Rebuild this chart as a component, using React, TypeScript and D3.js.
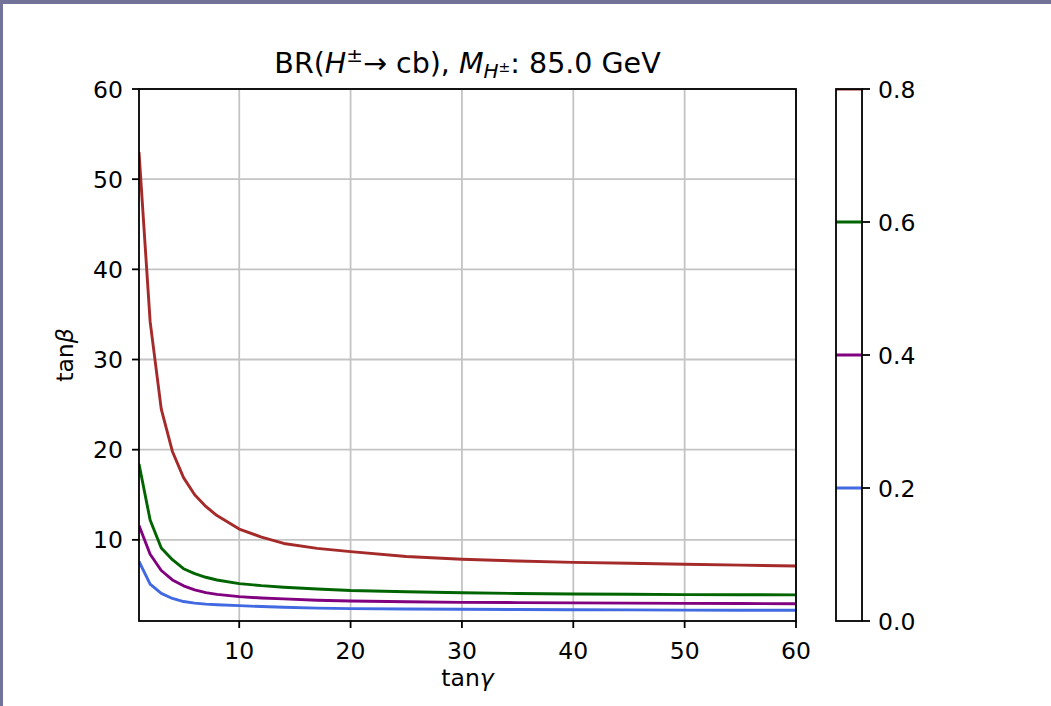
import React from "react";
import * as d3 from "d3";

const tanGamma = [1, 2, 3, 4, 5, 6, 7, 8, 10, 12, 14, 17, 20, 25, 30, 35, 40, 45, 50, 55, 60];
const br02 = [7.6, 5.1, 4.07, 3.5, 3.16, 2.98, 2.87, 2.8, 2.7, 2.6, 2.53, 2.43, 2.37, 2.33, 2.3, 2.27, 2.25, 2.23, 2.21, 2.2, 2.19];
const br04 = [11.6, 8.4, 6.6, 5.55, 4.9, 4.45, 4.15, 3.95, 3.7, 3.55, 3.45, 3.3, 3.22, 3.13, 3.07, 3.04, 3.01, 2.98, 2.96, 2.94, 2.92];
const br06 = [18.4, 12.2, 9.1, 7.8, 6.8, 6.25, 5.85, 5.55, 5.15, 4.92, 4.75, 4.55, 4.38, 4.25, 4.14, 4.05, 3.99, 3.96, 3.93, 3.91, 3.9];
const br08 = [53, 34.2, 24.5, 19.8, 16.9, 15.0, 13.7, 12.7, 11.2, 10.3, 9.6, 9.05, 8.7, 8.15, 7.85, 7.65, 7.5, 7.4, 7.3, 7.2, 7.1];

const levels = [0.2, 0.4, 0.6, 0.8];
const levelColors = ["#4169e1", "#800080", "#006400", "#a52a2a"];
const seriesValues = [br02, br04, br06, br08];

const xTicks = [10, 20, 30, 40, 50, 60];
const yTicks = [10, 20, 30, 40, 50, 60];
const cbTicks = [0.0, 0.2, 0.4, 0.6, 0.8];

const W = 1051;
const H = 706;
const L = 139, R = 796, T = 89, B = 621;
const CBL = 836, CBR = 862;

export default function App() {
  const x = d3.scaleLinear().domain([1, 60]).range([L, R]);
  const y = d3.scaleLinear().domain([1, 60]).range([B, T]);
  const cb = d3.scaleLinear().domain([0, 0.8]).range([B, T]);
  const line = d3
    .line<number>()
    .x((_, i) => x(tanGamma[i]))
    .y((d) => y(d))
    .curve(d3.curveLinear);

  const font = "'DejaVu Sans', sans-serif";
  const tickFs = 23.5;

  return (
    <div style={{ position: "absolute", left: 0, top: 0 }}>
      <svg width={W} height={H} style={{ display: "block" }} fontFamily={font}>
        <rect x={0} y={0} width={W} height={H} fill="#ffffff" />
        <rect x={0} y={0} width={W} height={4} fill="#737399" />
        <rect x={0} y={0} width={3} height={H} fill="#737399" />
        <defs>
          <clipPath id="plotclip">
            <rect x={L} y={T} width={R - L} height={B - T} />
          </clipPath>
          <clipPath id="cbclip">
            <rect x={CBL} y={T} width={CBR - CBL} height={B - T} />
          </clipPath>
        </defs>

        {/* grid */}
        {xTicks.map((t) => (
          <line key={"gx" + t} x1={x(t)} x2={x(t)} y1={T} y2={B} stroke="#c4c4c4" strokeWidth={1.8} />
        ))}
        {yTicks.map((t) => (
          <line key={"gy" + t} x1={L} x2={R} y1={y(t)} y2={y(t)} stroke="#c4c4c4" strokeWidth={1.8} />
        ))}

        {/* curves */}
        <g clipPath="url(#plotclip)">
          {seriesValues.map((vals, i) => (
            <path key={"s" + i} d={line(vals) || ""} fill="none" stroke={levelColors[i]} strokeWidth={2.9} strokeLinejoin="round" />
          ))}
        </g>

        {/* spines */}
        <rect x={L} y={T} width={R - L} height={B - T} fill="none" stroke="#000" strokeWidth={1.8} />

        {/* x ticks */}
        {xTicks.map((t) => (
          <g key={"xt" + t}>
            <line x1={x(t)} x2={x(t)} y1={B} y2={B + 7} stroke="#000" strokeWidth={1.8} />
            <text x={x(t)} y={659} textAnchor="middle" fontSize={tickFs} fill="#000">
              {t}
            </text>
          </g>
        ))}
        {/* y ticks */}
        {yTicks.map((t) => (
          <g key={"yt" + t}>
            <line x1={L - 7} x2={L} y1={y(t)} y2={y(t)} stroke="#000" strokeWidth={1.8} />
            <text x={L - 16} y={y(t) + 8.5} textAnchor="end" fontSize={tickFs} fill="#000">
              {t}
            </text>
          </g>
        ))}

        {/* axis labels */}
        <text x={(L + R) / 2} y={686} textAnchor="middle" fontSize={tickFs} fill="#000">
          tan<tspan fontStyle="italic">γ</tspan>
        </text>
        <text
          transform={`translate(73, ${(T + B) / 2}) rotate(-90)`}
          textAnchor="middle"
          fontSize={tickFs}
          fill="#000"
        >
          tan<tspan fontStyle="italic">β</tspan>
        </text>

        {/* title */}
        <text x={(L + R) / 2} y={73} textAnchor="middle" fontSize={28.5} fill="#000">
          BR(<tspan fontStyle="italic">H</tspan>
          <tspan fontSize={20} dy={-11}>±</tspan>
          <tspan dy={11}>→ cb), </tspan>
          <tspan fontStyle="italic">M</tspan>
          <tspan fontSize={20} fontStyle="italic" dy={5}>H</tspan>
          <tspan fontSize={14} dy={-6}>±</tspan>
          <tspan dy={1}>: 85.0 GeV</tspan>
        </text>

        {/* colorbar */}
        <rect x={CBL} y={T} width={CBR - CBL} height={B - T} fill="#ffffff" />
        <g clipPath="url(#cbclip)">
          {levels.map((lv, i) => (
            <line key={"cl" + lv} x1={CBL} x2={CBR} y1={cb(lv)} y2={cb(lv)} stroke={levelColors[i]} strokeWidth={3} />
          ))}
        </g>
        <rect x={CBL} y={T} width={CBR - CBL} height={B - T} fill="none" stroke="#000" strokeWidth={1.8} />
        {cbTicks.map((t) => (
          <g key={"ct" + t}>
            <line x1={CBR} x2={CBR + 8} y1={cb(t)} y2={cb(t)} stroke="#000" strokeWidth={1.8} />
            <text x={CBR + 16} y={cb(t) + 8.5} textAnchor="start" fontSize={tickFs} fill="#000">
              {t.toFixed(1)}
            </text>
          </g>
        ))}
      </svg>
    </div>
  );
}
